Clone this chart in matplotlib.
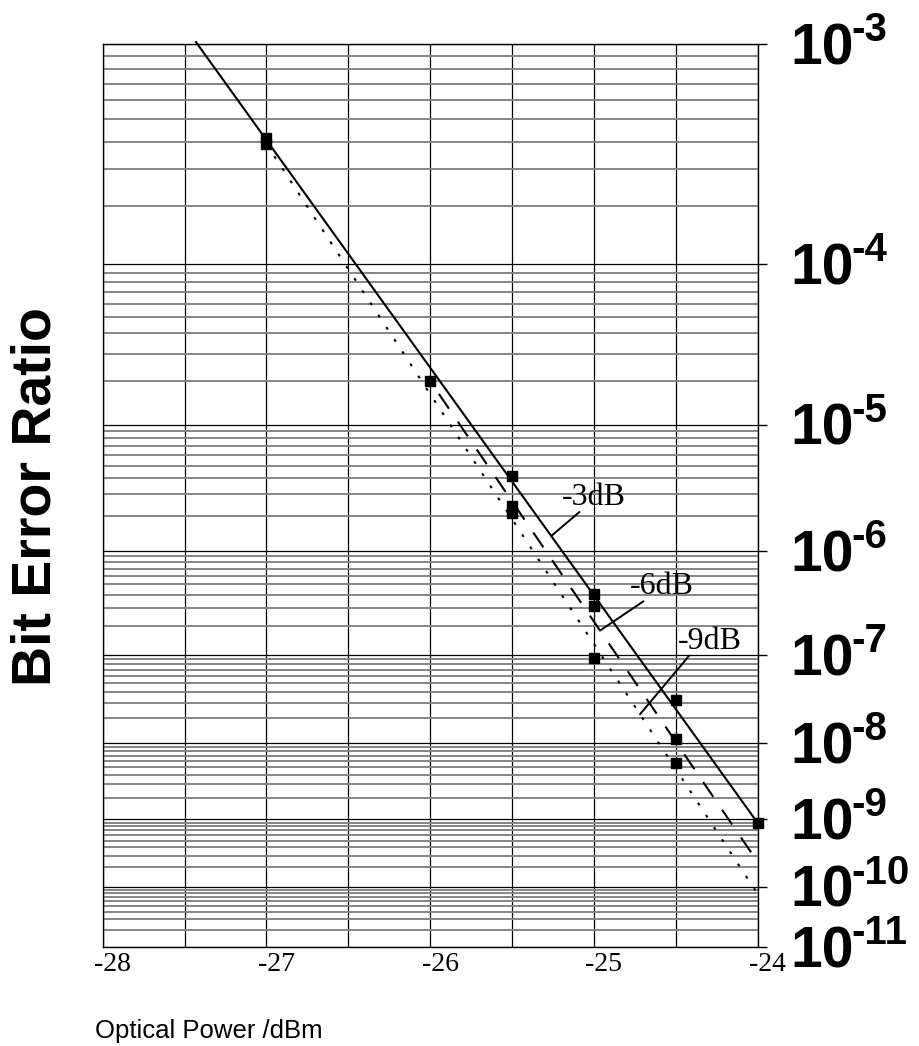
import math

import matplotlib
matplotlib.use("Agg")
import matplotlib.pyplot as plt
import numpy as np
from matplotlib.ticker import FixedLocator, MultipleLocator, NullFormatter
from matplotlib.transforms import ScaledTranslation

# measured points (optical power in dBm, bit error ratio)
power_3db = [-27.0, -25.5, -25.0, -24.5, -24.0]
ber_3db = [4.15e-4, 4.2e-6, 4.1e-7, 3.2e-8, 9.0e-10]
power_6db = [-26.0, -25.5, -25.0, -24.5]
ber_6db = [2.0e-5, 2.4e-6, 3.1e-7, 1.13e-8]
power_9db = [-27.0, -25.5, -25.0, -24.5]
ber_9db = [3.9e-4, 2.1e-6, 9.4e-8, 5.65e-9]

# straight-line fits drawn through each set
fit_power_3db = [-27.43, -24.0]
fit_ber_3db = [1.02e-3, 9.0e-10]
fit_power_6db = [-26.0, -24.0]
fit_ber_6db = [2.0e-5, 2.43e-10]
fit_power_9db = [-27.0, -24.0]
fit_ber_9db = [3.9e-4, 7.8e-11]

decade_exponents = [3, 4, 5, 6, 7, 8, 9, 10, 11]
x_ticks = [-28, -27, -26, -25, -24]

# label, fit it points to, power where the leader meets the fit
labels = ["-3dB", "-6dB", "-9dB"]
label_power = [-25.26, -24.962, -24.718]

Q_OFFSET = 0.25
_erfc = np.vectorize(math.erfc, otypes=[float])


def q_factor(ber):
    ber = np.asarray(ber, dtype=float)
    q = np.full(ber.shape, np.nan)
    ok = np.isfinite(ber) & (ber > 0) & (ber < 0.5)
    if ok.any():
        target = ber[ok]
        lo = np.zeros_like(target)
        hi = np.full_like(target, 40.0)
        for _ in range(70):
            mid = 0.5 * (lo + hi)
            above = 0.5 * _erfc(mid / np.sqrt(2)) > target
            lo = np.where(above, mid, lo)
            hi = np.where(above, hi, mid)
        q[ok] = 0.5 * (lo + hi)
    return q


def forward(ber):
    with np.errstate(invalid="ignore", divide="ignore"):
        return -np.log10(q_factor(ber) - Q_OFFSET)


def inverse(v):
    v = np.asarray(v, dtype=float)
    with np.errstate(over="ignore", invalid="ignore"):
        return 0.5 * _erfc((10.0 ** (-v) + Q_OFFSET) / np.sqrt(2))


def on_fit(power, fit_power, fit_ber):
    v = np.interp(power, fit_power, forward(fit_ber))
    return float(inverse(v))


plt.rcParams["font.family"] = "Liberation Serif"

fig = plt.figure(figsize=(9.19, 10.46), dpi=100)
ax = fig.add_axes([0.1117, 0.0944, 0.7126, 0.8632])

ax.set_yscale("function", functions=(forward, inverse))
ax.set_xlim(-28, -24)
ax.set_ylim(10.0 ** -11, 10.0 ** -3)

major_y = [10.0 ** -e for e in decade_exponents]
minor_y = [k * 10.0 ** -e for e in decade_exponents[1:] for k in range(2, 10)]
ax.yaxis.set_major_locator(FixedLocator(major_y))
ax.yaxis.set_minor_locator(FixedLocator(minor_y))
ax.yaxis.set_major_formatter(NullFormatter())
ax.yaxis.set_minor_formatter(NullFormatter())
ax.xaxis.set_major_locator(FixedLocator(x_ticks))
ax.xaxis.set_minor_locator(MultipleLocator(0.5))
ax.set_xticklabels([str(t) for t in x_ticks], fontsize=20)

ax.set_axisbelow(True)
ax.xaxis.grid(True, which="both", color="black", lw=0.9)
ax.yaxis.grid(True, which="major", color="black", lw=0.9)
ax.yaxis.grid(True, which="minor", color="#858585", lw=1.4)

ax.tick_params(axis="x", which="both", length=0, pad=3.4)
ax.tick_params(axis="y", which="major", left=False, right=True, direction="out",
               length=6.5, width=1.0)
ax.tick_params(axis="y", which="minor", left=False, right=False, length=0)
for spine in ax.spines.values():
    spine.set_linewidth(1.0)

shift = ScaledTranslation(10 / 100, 0, fig.dpi_scale_trans)
for lab in ax.get_xticklabels():
    lab.set_transform(lab.get_transform() + shift)

# fitted lines
ax.plot(fit_power_3db, fit_ber_3db, color="black", lw=1.5, clip_on=False)
ax.plot(fit_power_6db, fit_ber_6db, color="black", lw=1.5,
        linestyle=(8.6, (8.6, 7.5)))
ax.plot(fit_power_9db, fit_ber_9db, color="black", lw=1.5,
        linestyle=(0, (1.4, 5.6)))

for p, b in [(power_3db, ber_3db), (power_6db, ber_6db), (power_9db, ber_9db)]:
    ax.plot(p, b, "s", color="black", ms=7.2, ls="none", clip_on=False, zorder=5)

fits = [(fit_power_3db, fit_ber_3db), (fit_power_6db, fit_ber_6db),
        (fit_power_9db, fit_ber_9db)]
text_offsets = [(7.4, 22.3), (21.6, 26.1), (27.6, 47.3)]
leader_rel = [0.28, 0.21, 0.17]
for text, p, (fp, fb), off, rx in zip(labels, label_power, fits, text_offsets, leader_rel):
    ax.annotate(text, xy=(p, on_fit(p, fp, fb)), xytext=off,
                textcoords="offset points", ha="left", va="baseline", fontsize=23,
                arrowprops=dict(arrowstyle="-", lw=1.4, color="black", patchA=None,
                                shrinkA=0, shrinkB=0, relpos=(rx, 0.0)))

# right-hand decade labels
for e in decade_exponents:
    ax.annotate("10", xy=(1, 10.0 ** -e), xycoords=("axes fraction", "data"),
                xytext=(23.4, -14.4), textcoords="offset points", ha="left",
                va="baseline", fontsize=41, fontweight="bold",
                family="Liberation Sans", annotation_clip=False)
    ax.annotate(f"-{e}", xy=(1, 10.0 ** -e), xycoords=("axes fraction", "data"),
                xytext=(67.3, 2.2), textcoords="offset points", ha="left",
                va="baseline", fontsize=29, fontweight="bold",
                family="Liberation Sans", annotation_clip=False)

fig.text(0.0397, 0.5253, "Bit Error Ratio", rotation=90, ha="center", va="center",
         fontsize=40, fontweight="bold", family="Liberation Sans")
fig.text(95 / 919, 1 - 1038 / 1046, "Optical Power /dBm", ha="left", va="baseline",
         fontsize=18.5, family="Liberation Sans")

fig.savefig("out.png", dpi=100, facecolor="white")
